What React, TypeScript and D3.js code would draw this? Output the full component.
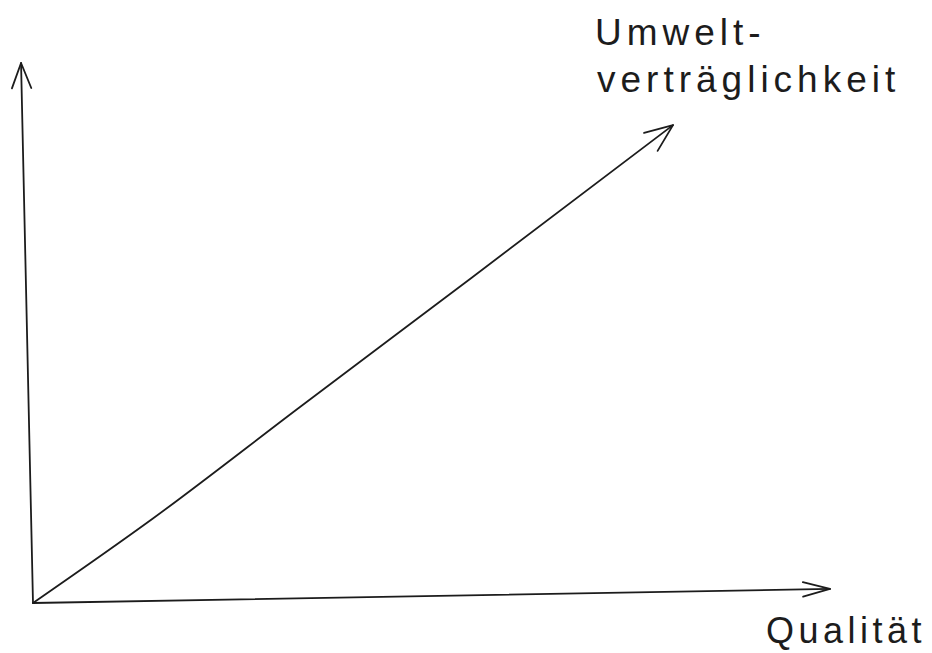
import * as d3 from "d3";

// axis endpoints in chart units (0..100), slightly skewed like the hand drawing
const yAxisLine: [number, number][] = [
  [0, 0],
  [-1.5, 100],
];
const xAxisLine: [number, number][] = [
  [0, 0],
  [100, 2.6],
];
// the diagonal trend line (slightly sagging)
const trendLine: [number, number][] = [
  [0, 0],
  [15, 15.6],
  [33.5, 36.3],
  [55, 60.2],
  [80.3, 88.5],
];

const yLabelLines = ["Umwelt-", "verträglichkeit"];
const xLabel = "Qualität";

const width = 932;
const height = 653;
const ink = "#1c1c1c";

const x = d3.scaleLinear().domain([0, 100]).range([33, 830]);
const y = d3.scaleLinear().domain([0, 100]).range([603, 63]);

const line = d3
  .line<[number, number]>()
  .x((d) => x(d[0]))
  .y((d) => y(d[1]))
  .curve(d3.curveMonotoneX);

// open arrowhead from the last segment direction
function arrowHead(pts: [number, number][], len = 28, spread = 20) {
  const a = pts[pts.length - 2];
  const b = pts[pts.length - 1];
  const tx = x(b[0]);
  const ty = y(b[1]);
  const ang = Math.atan2(ty - y(a[1]), tx - x(a[0]));
  const s = (spread * Math.PI) / 180;
  const p1: [number, number] = [tx - len * Math.cos(ang - s), ty - len * Math.sin(ang - s)];
  const p2: [number, number] = [tx - len * Math.cos(ang + s), ty - len * Math.sin(ang + s)];
  return `M${p1[0]},${p1[1]}L${tx},${ty}L${p2[0]},${p2[1]}`;
}

export default function App() {
  const textStyle = {
    fontFamily: "'Liberation Sans', Arial, sans-serif",
    fontSize: 37,
    letterSpacing: 5,
    fill: ink,
  };
  return (
    <svg
      width={width}
      height={height}
      style={{ position: "absolute", left: 0, top: 0, background: "#fff" }}
    >
      <g fill="none" stroke={ink} strokeWidth={1.8} strokeLinecap="round" strokeLinejoin="round">
        <path d={d3.line()(yAxisLine.map((d) => [x(d[0]), y(d[1])])) ?? ""} />
        <path d={arrowHead(yAxisLine, 27, 21)} />
        <path d={d3.line()(xAxisLine.map((d) => [x(d[0]), y(d[1])])) ?? ""} />
        <path d={arrowHead(xAxisLine, 28, 15)} />
        <path d={line(trendLine) ?? ""} />
        <path d={arrowHead(trendLine.slice(-2), 30, 22)} />
      </g>
      <text x={595} y={45} style={textStyle}>
        {yLabelLines[0]}
      </text>
      <text x={597} y={92} style={textStyle}>
        {yLabelLines[1]}
      </text>
      <text x={766} y={643} style={{ ...textStyle, fontSize: 36, letterSpacing: 4.5 }}>
        {xLabel}
      </text>
    </svg>
  );
}
